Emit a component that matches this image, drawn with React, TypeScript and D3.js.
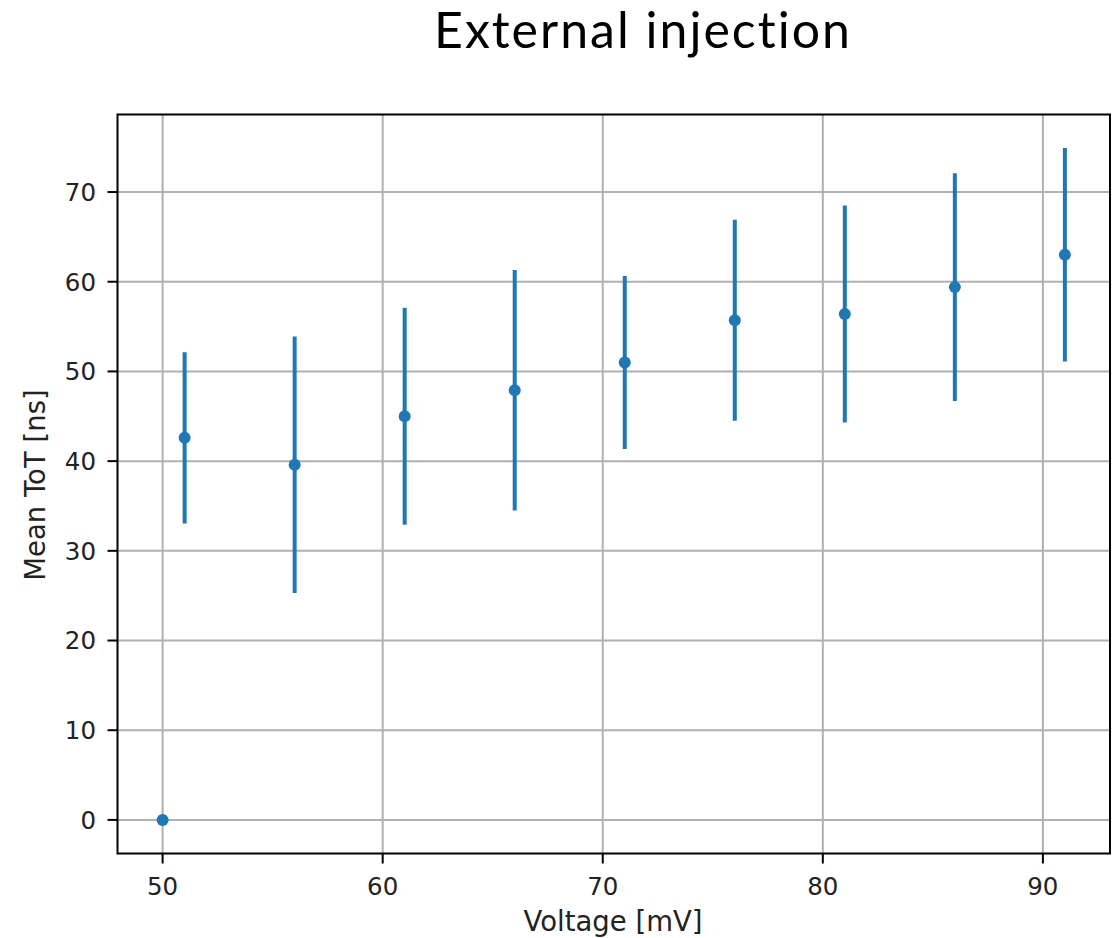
import React from "react";
import * as d3 from "d3";

const voltages = [50, 51, 56, 61, 66, 71, 76, 81, 86, 91];
const meanToT = [0, 42.6, 39.6, 45.0, 47.9, 51.0, 55.7, 56.4, 59.4, 63.0];
const errToT = [0, 9.55, 14.3, 12.1, 13.4, 9.65, 11.2, 12.1, 12.7, 11.9];
const xTicks = [50, 60, 70, 80, 90];
const yTicks = [0, 10, 20, 30, 40, 50, 60, 70];

const W = 1119;
const H = 938;
const plot = { left: 117.5, right: 1110, top: 114.5, bottom: 853.5 };
const BLUE = "#1f77b4";
const FONT = "'DejaVu Sans', sans-serif";

export default function App() {
  const xMin = d3.min(voltages)!;
  const xMax = d3.max(voltages)!;
  const xPad = (xMax - xMin) * 0.05;
  const lows = meanToT.map((m, i) => m - errToT[i]);
  const highs = meanToT.map((m, i) => m + errToT[i]);
  const yLo = Math.min(0, d3.min(lows)!);
  const yHi = d3.max(highs)!;
  const yPad = (yHi - yLo) * 0.05;

  const x = d3.scaleLinear().domain([xMin - xPad, xMax + xPad]).range([plot.left, plot.right]);
  const y = d3.scaleLinear().domain([yLo - yPad, yHi + yPad]).range([plot.bottom, plot.top]);

  return (
    <svg width={W} height={H} style={{ position: "absolute", left: 0, top: 0, background: "#fff" }}>
      <text x={643} y={48} textAnchor="middle" fontFamily="Lato, 'Open Sans', sans-serif" fontSize={50} letterSpacing={2} fill="#000">
        External injection
      </text>
      {/* grid */}
      {xTicks.map((t) => (
        <line key={"gx" + t} x1={x(t)} x2={x(t)} y1={plot.top} y2={plot.bottom} stroke="#b0b0b0" strokeWidth={2} />
      ))}
      {yTicks.map((t) => (
        <line key={"gy" + t} x1={plot.left} x2={plot.right} y1={y(t)} y2={y(t)} stroke="#b0b0b0" strokeWidth={2} />
      ))}
      {/* error bars */}
      {voltages.map((v, i) =>
        errToT[i] > 0 ? (
          <line key={"e" + i} x1={x(v)} x2={x(v)} y1={y(lows[i])} y2={y(highs[i])} stroke={BLUE} strokeWidth={4} />
        ) : null
      )}
      {voltages.map((v, i) => (
        <circle key={"p" + i} cx={x(v)} cy={y(meanToT[i])} r={6} fill={BLUE} />
      ))}
      {/* frame */}
      <rect x={plot.left} y={plot.top} width={plot.right - plot.left} height={plot.bottom - plot.top} fill="none" stroke="#000" strokeWidth={2} />
      {/* ticks */}
      {xTicks.map((t) => (
        <g key={"tx" + t}>
          <line x1={x(t)} x2={x(t)} y1={plot.bottom} y2={plot.bottom + 10} stroke="#000" strokeWidth={2} />
          <text x={x(t)} y={895} textAnchor="middle" fontFamily={FONT} fontSize={24.5} fill="#222">
            {t}
          </text>
        </g>
      ))}
      {yTicks.map((t) => (
        <g key={"ty" + t}>
          <line x1={plot.left - 10} x2={plot.left} y1={y(t)} y2={y(t)} stroke="#000" strokeWidth={2} />
          <text x={96} y={y(t)} dy="0.36em" textAnchor="end" fontFamily={FONT} fontSize={24.5} fill="#222">
            {t}
          </text>
        </g>
      ))}
      <text x={613} y={931} textAnchor="middle" fontFamily={FONT} fontSize={27.5} fill="#222">
        Voltage [mV]
      </text>
      <text transform={`translate(45, ${485}) rotate(-90)`} textAnchor="middle" fontFamily={FONT} fontSize={27.5} fill="#222">
        Mean ToT [ns]
      </text>
    </svg>
  );
}
